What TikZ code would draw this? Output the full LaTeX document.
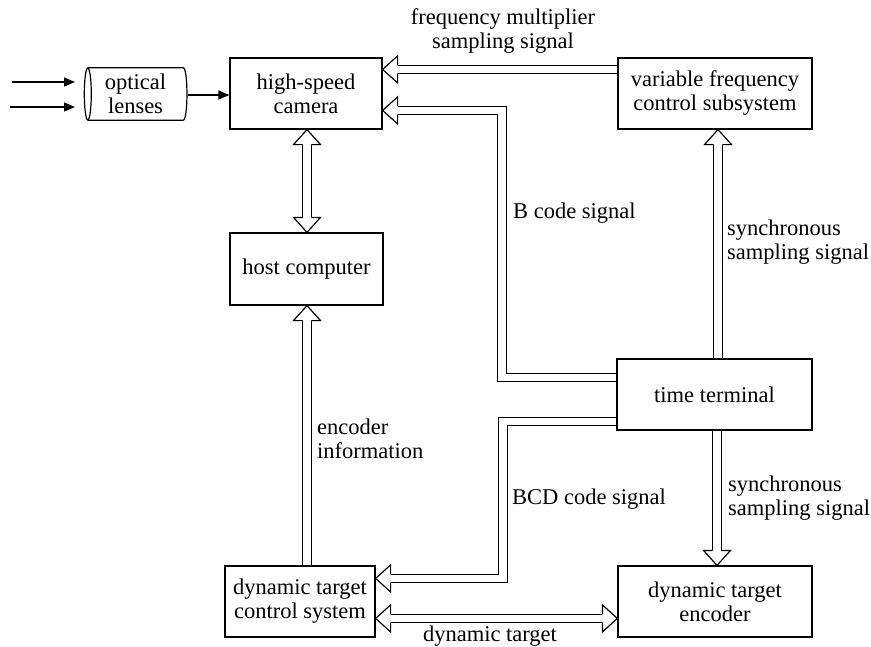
\documentclass[tikz,border=0pt]{standalone}
\usepackage{fontspec}
\setmainfont{Liberation Serif}
\usetikzlibrary{calc,backgrounds,arrows.meta}
\newcommand{\arrL}{15}
\newcommand{\arrW}{13.5}
\newcommand{\arrS}{4.3}
\newcommand{\hhead}[2]{%
  \begin{scope}[shift={(#1)},rotate=#2]
    \fill[white] (0,0) -- (-\arrL,\arrW) -- (-\arrL,-\arrW) -- cycle;
    \draw[line width=1.2pt,line join=miter] (-\arrL,\arrS) -- (-\arrL,\arrW) -- (0,0) -- (-\arrL,-\arrW) -- (-\arrL,-\arrS);
  \end{scope}}
\tikzset{
  txt/.style={font=\fontsize{22.5}{24}\selectfont},
  box/.style={txt,draw,line width=1.2pt,fill=white,align=center,inner sep=2pt},
  lbl/.style={txt,inner sep=0pt},
  hollow/.style={draw=black,line width=1.2pt,double=white,double distance=7.4pt,line join=miter},
  parrow/.style={-{Triangle[length=11pt,width=9pt]},line width=1.2pt}
}
\begin{document}
\begin{tikzpicture}[x=1pt,y=-1pt]
\useasboundingbox (0,0) rectangle (871,646);
% boxes
\node[box,minimum width=152pt,minimum height=71pt] (cam) at (306,93.5) {high-speed\\camera};
\node[box,minimum width=153pt,minimum height=72pt] (host) at (306.5,269) {host computer};
\node[box,minimum width=194pt,minimum height=71pt] (vfc) at (715,93.5) {variable frequency\\control subsystem};
\node[box,minimum width=195pt,minimum height=71pt] (tt) at (714.5,394.5) {time terminal};
\node[box,minimum width=150pt,minimum height=71pt] (dtc) at (300,601.5) {dynamic target\\control system};
\node[box,minimum width=194pt,minimum height=71pt] (enc) at (715,601.5) {dynamic target\\encoder};
% lens
\node[txt,align=center,minimum width=95pt,minimum height=52pt,inner sep=0pt] (lens) at (135.5,94) {optical\\lenses};
\draw[line width=1.2pt] (lens.west) ellipse [x radius=3.5, y radius=26];
\draw[line width=1.2pt] (lens.north west) -- (lens.north east)
  .. controls +(5,0) and +(5,0) .. (lens.south east) -- (lens.south west);
% plain arrows
\coordinate (i1s) at (12,82);
\coordinate (i1e) at (75,82);
\coordinate (i2s) at (10,107);
\coordinate (i2e) at (75,107);
\draw[parrow] (i1s) -- (i1e);
\draw[parrow] (i2s) -- (i2e);
\coordinate (l1) at ($(lens.east)+(5,1)$);
\coordinate (l2) at (cam.west |- l1);
\draw[parrow] (l1) -- (l2);
% labels
\node[lbl,align=center] (lfm) at (503,31) {frequency multiplier\\sampling signal};
\node[lbl,anchor=west] (lb) at (513,213) {B code signal};
\node[lbl,align=left,anchor=west] (ls1) at (727,242) {synchronous\\sampling signal};
\node[lbl,align=left,anchor=west] (le) at (317,439) {encoder\\information};
\node[lbl,anchor=west] (lbcd) at (512,499) {BCD code signal};
\node[lbl,align=left,anchor=west] (ls2) at (728,498) {synchronous\\sampling signal};
\node[lbl] (ldt) at (490,636) {dynamic target};
% hollow arrows
\begin{scope}[on background layer]
  % frequency multiplier
  \coordinate (f1) at ($(vfc.north west)+(0,12)$);
  \coordinate (f2) at (cam.east |- f1);
  \draw[hollow] (f1) -- ($(f2)+(14,0)$);
  \hhead{f2}{180}
  % B code
  \coordinate (bx) at (502,0);
  \coordinate (b1) at ($(tt.north west)+(0,19)$);
  \coordinate (b2) at ($(cam.north east)+(0,53)$);
  \draw[hollow] (b1) -- (b1 -| bx) -- (b2 -| bx) -- ($(b2)+(14,0)$);
  \hhead{b2}{180}
  % BCD code
  \coordinate (cx) at (503,0);
  \coordinate (c1) at ($(tt.north west)+(0,63)$);
  \coordinate (c2) at ($(dtc.north east)+(0,13)$);
  \draw[hollow] (c1) -- (c1 -| cx) -- (c2 -| cx) -- ($(c2)+(14,0)$);
  \hhead{c2}{180}
  % sync up
  \coordinate (s1) at ($(tt.north)+(3.5,0)$);
  \coordinate (s2) at (vfc.south -| s1);
  \draw[hollow] (s1) -- ($(s2)+(0,14)$);
  \hhead{s2}{90}
  % sync down
  \coordinate (d1) at ($(tt.south)+(2.5,0)$);
  \coordinate (d2) at (enc.north -| d1);
  \draw[hollow] (d1) -- ($(d2)+(0,-14)$);
  \hhead{d2}{-90}
  % encoder information
  \coordinate (e1) at ($(dtc.north)+(7,0)$);
  \coordinate (e2) at (host.south -| e1);
  \draw[hollow] (e1) -- ($(e2)+(0,14)$);
  \hhead{e2}{90}
  % camera <-> host
  \coordinate (h1) at ($(cam.south)+(1,0)$);
  \coordinate (h2) at (host.north -| h1);
  \draw[hollow] ($(h1)+(0,14)$) -- ($(h2)+(0,-14)$);
  \hhead{h1}{90}
  \hhead{h2}{-90}
  % dynamic target
  \coordinate (t1) at ($(dtc.north east)+(0,53)$);
  \coordinate (t2) at (enc.west |- t1);
  \draw[hollow] ($(t1)+(14,0)$) -- ($(t2)+(-14,0)$);
  \hhead{t1}{180}
  \hhead{t2}{0}
\end{scope}
\end{tikzpicture}
\end{document}
